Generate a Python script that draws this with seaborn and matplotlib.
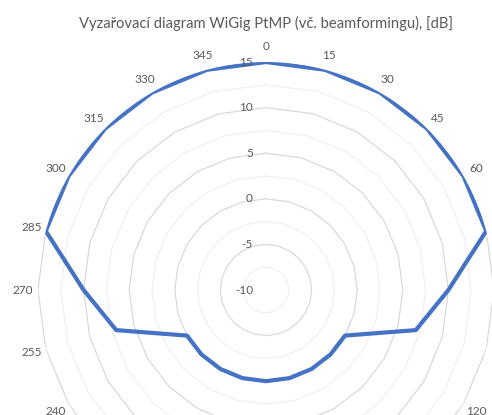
import numpy as np
import matplotlib
matplotlib.use("Agg")
import matplotlib.pyplot as plt
import seaborn as sns

# ---- data ----
angles_deg = [0, 15, 30, 45, 60, 75, 90, 105, 120, 135, 150, 165,
              180, 195, 210, 225, 240, 255, 270, 285, 300, 315, 330, 345]
category_labels = [str(a) for a in angles_deg]
gain_db = [15, 15, 15, 15, 15, 15, 10, 7, 0, 0, 0, 0,
           0, 0, 0, 0, 0, 7, 10, 15, 15, 15, 15, 15]
r_min, r_max = -10, 15
major_levels = [-5, 0, 5, 10, 15]
minor_levels = [-7.5, -2.5, 2.5, 7.5, 12.5]
radial_labels = [-10, -5, 0, 5, 10, 15]
title = "Vyzařovací diagram WiGig PtMP (vč. beamformingu), [dB]"

FONT = ["Lato", "DejaVu Sans"]
TXT = "#595959"

sns.set_style("white")
plt.rcParams["font.family"] = FONT

W, H = 492, 415
fig = plt.figure(figsize=(W / 100, H / 100), dpi=100)
cx, cy, R = 266, 290, 228
ax = fig.add_axes([(cx - R) / W, (H - cy - R) / H, 2 * R / W, 2 * R / H],
                  projection="polar")
ax.set_theta_zero_location("N")
ax.set_theta_direction(-1)
ax.set_ylim(r_min, r_max)
ax.grid(False)
ax.spines["polar"].set_visible(False)
ax.patch.set_alpha(0)

theta = np.deg2rad(angles_deg)
theta_closed = np.append(theta, 2 * np.pi)

for lvl in minor_levels:
    ax.plot(theta_closed, [lvl] * len(theta_closed), color="#f0f0f0", lw=0.9, zorder=1)
for lvl in major_levels:
    ax.plot(theta_closed, [lvl] * len(theta_closed), color="#d9d9d9", lw=0.9, zorder=1)

vals_closed = np.append(gain_db, gain_db[0])
sns.lineplot(x=theta_closed, y=vals_closed, sort=False, estimator=None,
             ax=ax, color="#4472C4", lw=3, zorder=3)

ax.set_xticks([])
ax.set_yticks([])
ax.set_xlabel("")
ax.set_ylabel("")

# category labels just outside the outer ring
label_r = r_min + (243 / R) * (r_max - r_min)
for t, lab in zip(theta, category_labels):
    ax.text(t, label_r, lab, ha="center", va="center", fontsize=8.5,
            color=TXT, family=FONT, clip_on=False, zorder=4)

for v in radial_labels:
    ax.annotate(str(v), xy=(0, v), xytext=(-13, 0), textcoords="offset pixels",
                ha="right", va="center", fontsize=8.5, color=TXT, family=FONT,
                annotation_clip=False, zorder=4)

fig.text(cx / W, 1 - 23 / H, title, ha="center", va="center",
         fontsize=10.6, color=TXT, family=FONT)

fig.savefig("out.png", dpi=100)
